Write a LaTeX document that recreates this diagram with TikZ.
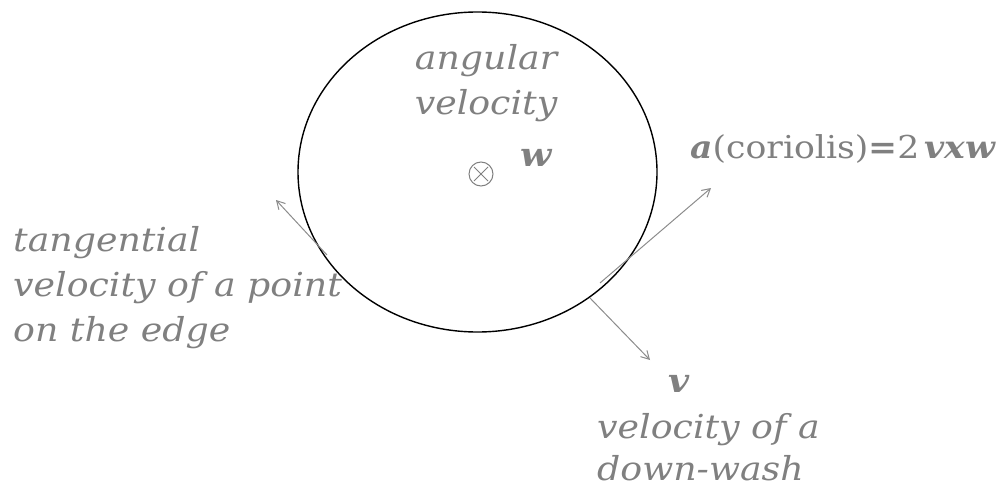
\documentclass[tikz,border=0pt]{standalone}
\usepackage{fontspec}
\setmainfont{DejaVu Serif}[FakeStretch=1.1]
\usetikzlibrary{arrows.meta,shapes.geometric}
\definecolor{txt}{HTML}{808080}
\definecolor{arr}{HTML}{8C8C8C}
\begin{document}
\begin{tikzpicture}[x=1pt,y=-1pt,
  lbl/.style={text=txt,font=\fontsize{33}{45}\selectfont\itshape,inner sep=0pt,align=left},
  vec/.style={draw=arr,line width=1pt,-{Straight Barb[length=8pt,width=9pt]}}]
\useasboundingbox (0,0) rectangle (1000,489);
\node[draw=black,line width=1.4pt,ellipse,minimum width=359pt,minimum height=320pt,inner sep=0pt] (disc) at (477.5,172) {};
\node[draw=txt,circle,line width=1pt,minimum size=24pt,inner sep=0pt,
  path picture={\draw[txt,line width=1pt] ([shift={(-7pt,-7pt)}]path picture bounding box.center)--++(14pt,14pt)
  ([shift={(7pt,-7pt)}]path picture bounding box.center)--++(-14pt,14pt);}] (omega) at (481,174) {};
\node[lbl,align=center] (ang) at (486,83) {angular\\velocity};
\node[lbl,font=\fontsize{33}{45}\selectfont\bfseries\itshape] (w) at (536,158) {w};
\node[text=txt,inner sep=0pt,anchor=west,font=\fontsize{31.5}{34}\selectfont] (cor) at (690,149) {\textbf{\textit{a}}(coriolis)\textbf{=}2\,\textbf{\textit{vxw}}};
\node[lbl,anchor=north west] (tan) at (13,226) {tangential\\velocity of a point\\on the edge};
\node[lbl,font=\fontsize{33}{45}\selectfont\bfseries\itshape] (v) at (679,384) {v};
\node[lbl,anchor=north west,font=\fontsize{33}{42}\selectfont\itshape] (down) at (597,413) {velocity of a\\down-wash};
\coordinate (p1) at (327,255);
\coordinate (t1) at (276,200);
\coordinate (p2) at (600,283);
\coordinate (t2) at (711,188);
\coordinate (p3) at (590,298);
\coordinate (t3) at (650,360);
\draw[vec] (p1) -- (t1);
\draw[vec] (p2) -- (t2);
\draw[vec] (p3) -- (t3);
\end{tikzpicture}
\end{document}
